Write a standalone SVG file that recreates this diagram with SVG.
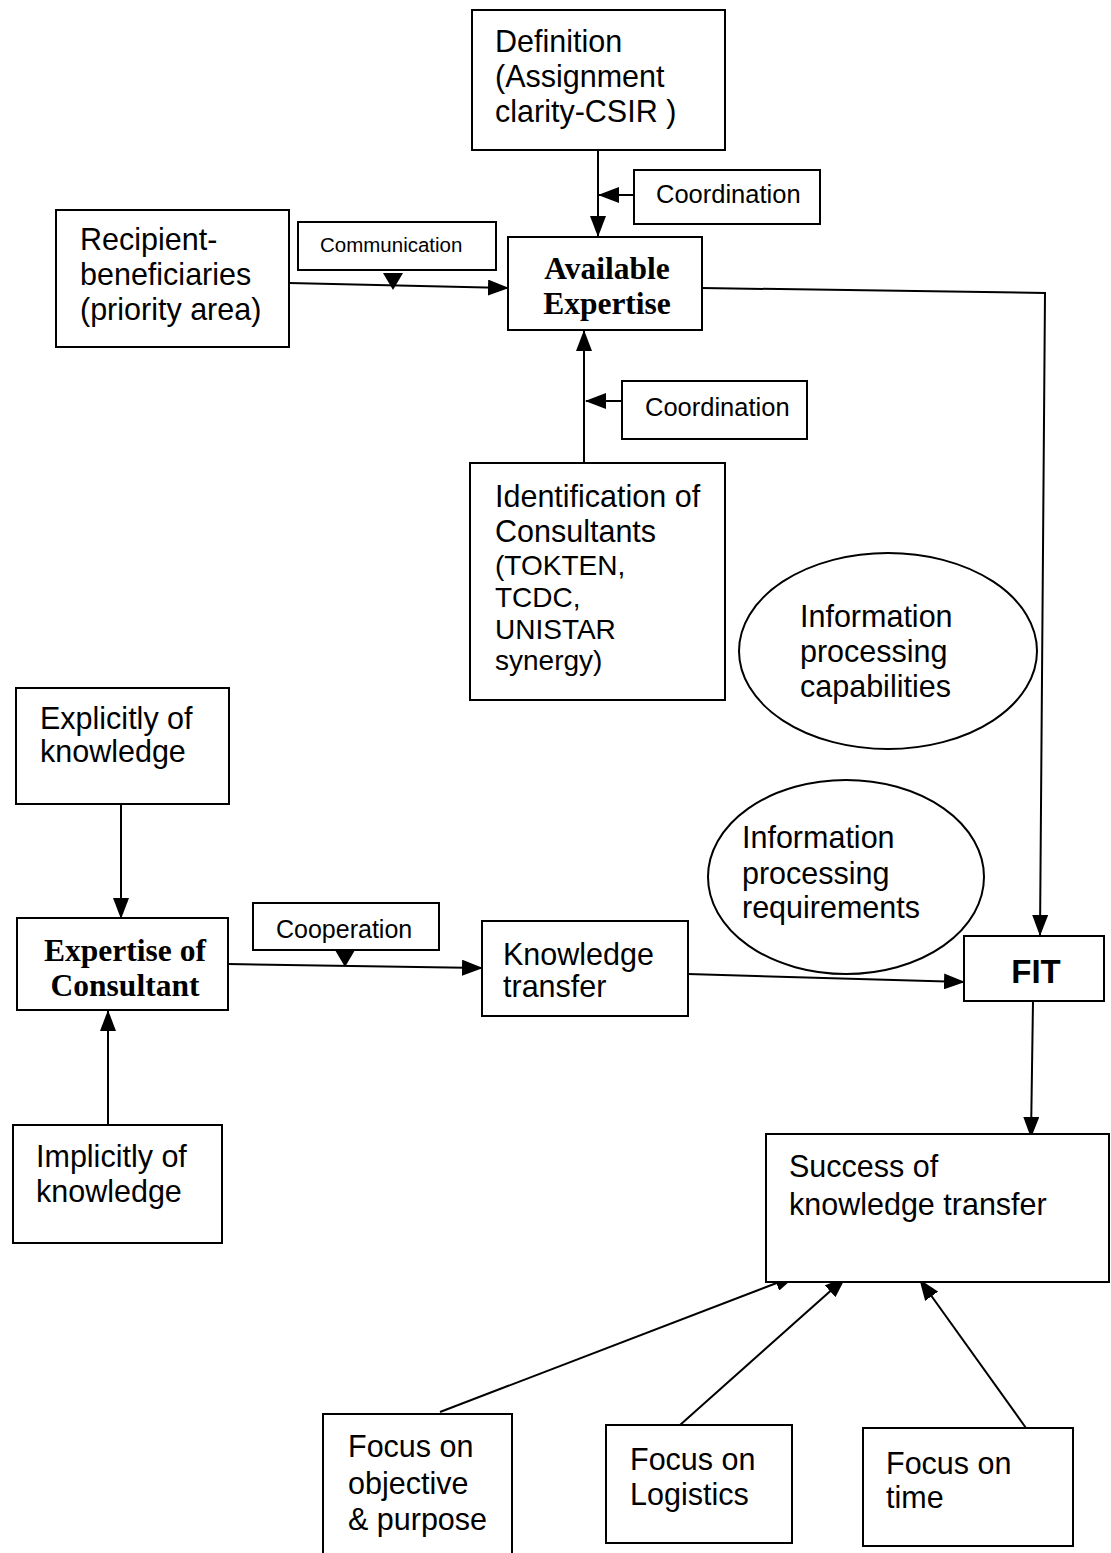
<svg xmlns="http://www.w3.org/2000/svg" width="1111" height="1553" viewBox="0 0 1111 1553">
<style>
.box{fill:#fff;stroke:#000;stroke-width:2}
.ell{fill:none;stroke:#000;stroke-width:2}
.t{font-family:"Liberation Sans",Arial,sans-serif;font-size:30.5px;fill:#000}
.m{font-family:"Liberation Sans",Arial,sans-serif;font-size:28px;fill:#000}
.s{font-family:"Liberation Sans",Arial,sans-serif;font-size:25.5px;fill:#000}
.xs{font-family:"Liberation Sans",Arial,sans-serif;font-size:20.5px;fill:#000}
.b{font-family:"Liberation Serif","Times New Roman",serif;font-size:31.5px;font-weight:bold;fill:#000}
.fit{font-family:"Liberation Sans",Arial,sans-serif;font-size:33px;font-weight:bold;fill:#000}
.ln{fill:none;stroke:#000;stroke-width:2}
</style>
<defs>
<marker id="ah" markerWidth="21" markerHeight="16" refX="20" refY="8" orient="auto" markerUnits="userSpaceOnUse">
<path d="M0,0 L21,8 L0,16 Z" fill="#000"/>
</marker>
</defs>
<g id="connectors">
<line class="ln" x1="598" y1="150" x2="598" y2="236" marker-end="url(#ah)"/>
<line class="ln" x1="634" y1="195" x2="599" y2="195" marker-end="url(#ah)"/>
<line class="ln" x1="289" y1="283" x2="508" y2="288" marker-end="url(#ah)"/>
<path d="M383,273 L403,273 L393,290 Z" fill="#000"/>
<line class="ln" x1="584" y1="463" x2="584" y2="331" marker-end="url(#ah)"/>
<line class="ln" x1="622" y1="401" x2="586" y2="401" marker-end="url(#ah)"/>
<polyline class="ln" points="702,288 1045,293 1040,935" marker-end="url(#ah)"/>
<line class="ln" x1="121" y1="804" x2="121" y2="918" marker-end="url(#ah)"/>
<line class="ln" x1="108" y1="1125" x2="108" y2="1011" marker-end="url(#ah)"/>
<line class="ln" x1="228" y1="964" x2="482" y2="968" marker-end="url(#ah)"/>
<path d="M335,950 L355,950 L345,967 Z" fill="#000"/>
<line class="ln" x1="688" y1="974" x2="964" y2="982" marker-end="url(#ah)"/>
<line class="ln" x1="1033" y1="1001" x2="1031" y2="1137" marker-end="url(#ah)"/>
<line class="ln" x1="440" y1="1412" x2="795" y2="1276" marker-end="url(#ah)"/>
<line class="ln" x1="680" y1="1425" x2="845" y2="1278" marker-end="url(#ah)"/>
<line class="ln" x1="1026" y1="1428" x2="920" y2="1280" marker-end="url(#ah)"/>
</g>
<g id="definition">
<rect class="box" x="472" y="10" width="253" height="140"/>
<text class="t" x="495" y="52">Definition</text>
<text class="t" x="495" y="87">(Assignment</text>
<text class="t" x="495" y="122">clarity-CSIR )</text>
</g>
<g id="coordination1">
<rect class="box" x="634" y="170" width="186" height="54"/>
<text class="s" x="656" y="203">Coordination</text>
</g>
<g id="available-expertise">
<rect class="box" x="508" y="237" width="194" height="93"/>
<text class="b" x="607" y="279" text-anchor="middle">Available</text>
<text class="b" x="607" y="314" text-anchor="middle">Expertise</text>
</g>
<g id="recipient">
<rect class="box" x="56" y="210" width="233" height="137"/>
<text class="t" x="80" y="250">Recipient-</text>
<text class="t" x="80" y="285">beneficiaries</text>
<text class="t" x="80" y="320">(priority area)</text>
</g>
<g id="communication">
<rect class="box" x="298" y="222" width="198" height="48"/>
<text class="xs" x="320" y="252">Communication</text>
</g>
<g id="coordination2">
<rect class="box" x="622" y="381" width="185" height="58"/>
<text class="s" x="645" y="416">Coordination</text>
</g>
<g id="identification">
<rect class="box" x="470" y="463" width="255" height="237"/>
<text class="t" x="495" y="507">Identification of</text>
<text class="t" x="495" y="542">Consultants</text>
<text class="m" x="495" y="575">(TOKTEN,</text>
<text class="m" x="495" y="607">TCDC,</text>
<text class="m" x="495" y="639">UNISTAR</text>
<text class="m" x="495" y="670">synergy)</text>
</g>
<g id="ip-capabilities">
<ellipse class="ell" cx="888" cy="651" rx="149" ry="98"/>
<text class="t" x="800" y="627">Information</text>
<text class="t" x="800" y="662">processing</text>
<text class="t" x="800" y="697">capabilities</text>
</g>
<g id="ip-requirements">
<ellipse class="ell" cx="846" cy="877" rx="138" ry="97"/>
<text class="t" x="742" y="848">Information</text>
<text class="t" x="742" y="884">processing</text>
<text class="t" x="742" y="918">requirements</text>
</g>
<g id="explicitly">
<rect class="box" x="16" y="688" width="213" height="116"/>
<text class="t" x="40" y="729">Explicitly of</text>
<text class="t" x="40" y="762">knowledge</text>
</g>
<g id="expertise-consultant">
<rect class="box" x="17" y="918" width="211" height="92"/>
<text class="b" x="125" y="961" text-anchor="middle">Expertise of</text>
<text class="b" x="125" y="996" text-anchor="middle">Consultant</text>
</g>
<g id="implicitly">
<rect class="box" x="13" y="1125" width="209" height="118"/>
<text class="t" x="36" y="1167">Implicitly of</text>
<text class="t" x="36" y="1202">knowledge</text>
</g>
<g id="cooperation">
<rect class="box" x="253" y="903" width="186" height="47"/>
<text class="s" x="276" y="938" style="font-size:25px">Cooperation</text>
</g>
<g id="knowledge-transfer">
<rect class="box" x="482" y="921" width="206" height="95"/>
<text class="t" x="503" y="965">Knowledge</text>
<text class="t" x="503" y="997">transfer</text>
</g>
<g id="fit">
<rect class="box" x="964" y="936" width="140" height="65"/>
<text class="fit" x="1036" y="983" text-anchor="middle">FIT</text>
</g>
<g id="success">
<rect class="box" x="766" y="1134" width="343" height="148"/>
<text class="t" x="789" y="1177">Success of</text>
<text class="t" x="789" y="1215">knowledge transfer</text>
</g>
<g id="focus-objective">
<rect class="box" x="323" y="1414" width="189" height="145"/>
<text class="t" x="348" y="1457">Focus on</text>
<text class="t" x="348" y="1494">objective</text>
<text class="t" x="348" y="1530">&amp; purpose</text>
</g>
<g id="focus-logistics">
<rect class="box" x="606" y="1425" width="186" height="118"/>
<text class="t" x="630" y="1470">Focus on</text>
<text class="t" x="630" y="1505">Logistics</text>
</g>
<g id="focus-time">
<rect class="box" x="863" y="1428" width="210" height="118"/>
<text class="t" x="886" y="1474">Focus on</text>
<text class="t" x="886" y="1508">time</text>
</g>
</svg>
